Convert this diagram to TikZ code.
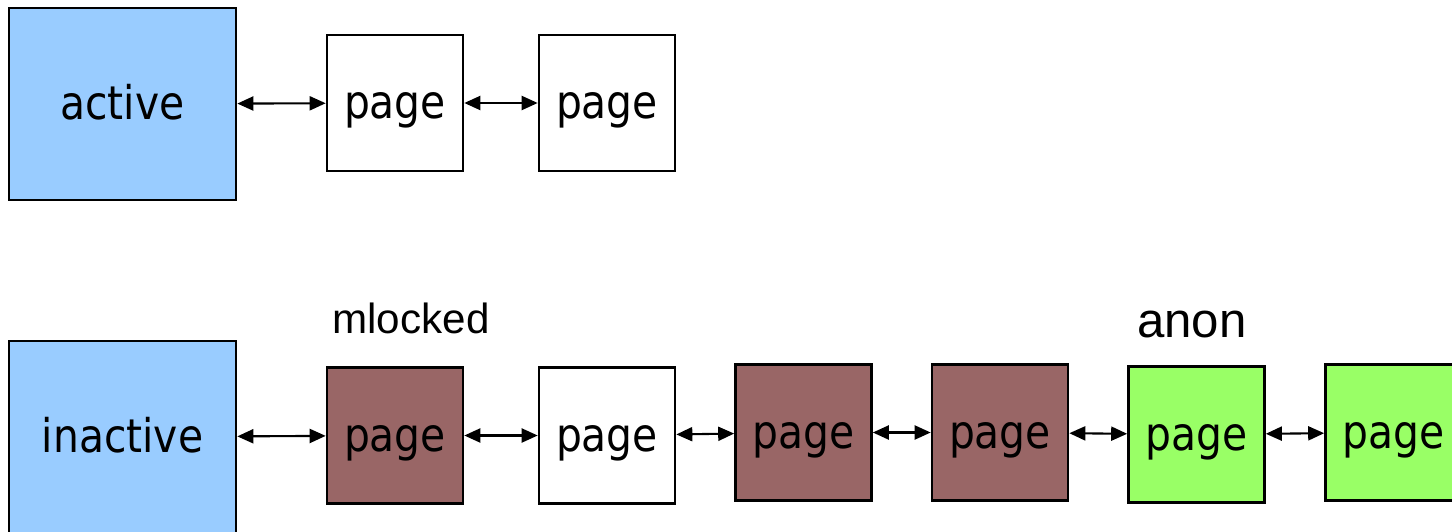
\documentclass[tikz,border=0pt]{standalone}
\usepackage{fontspec}
\usepackage{tikz}
\usetikzlibrary{arrows.meta}
\newfontfamily\boxfont[FakeStretch=0.88]{DejaVu Sans}
\newfontfamily\tagfont{Liberation Sans}
\definecolor{headblue}{HTML}{99CCFF}
\definecolor{lockbrown}{HTML}{996666}
\definecolor{anongreen}{HTML}{99FF66}
\begin{document}
\begin{tikzpicture}[>={Triangle[length=1.6mm,width=1.4mm]}, node distance=2.12cm]
      \tikzstyle{listhead} = [draw, line width=0.75pt, fill=headblue, minimum width=2.27cm, minimum height=1.92cm, inner sep=0pt, text height=0.31cm, text depth=0pt, font=\boxfont\fontsize{13.2}{15}\selectfont]
      \tikzstyle{pagebox} = [draw, line width=0.75pt, minimum size=1.36cm, inner sep=0pt, text height=0.31cm, text depth=0pt, font=\boxfont\fontsize{13.2}{15}\selectfont]
      \tikzstyle{tag} = [inner sep=0pt, font=\tagfont]
      \useasboundingbox (0,0) rectangle (14.52,-5.31);
      \begin{scope}
	\path[<->, line width=0.6pt]
	node[listhead] (act) at (1.225,-1.04) {active}
	node[pagebox, right of=act, xshift=0.605cm, yshift=0.01cm] (a1) {page}
	node[pagebox, right of=a1] (a2) {page}
	(act) edge (a1)
	(a1) edge (a2)
	;
      \end{scope}
      \begin{scope}[node distance=1.965cm]
	\path[<->, line width=0.6pt]
	node[listhead] (inact) at (1.225,-4.37) {inactive}
	node[pagebox, fill=lockbrown, right of=inact, xshift=0.76cm, yshift=0.015cm] (i1) {page}
	node[pagebox, right of=i1, xshift=0.155cm] (i2) {page}
	node[pagebox, fill=lockbrown, right of=i2, yshift=0.03cm] (i3) {page}
	node[pagebox, fill=lockbrown, right of=i3] (i4) {page}
	node[pagebox, fill=anongreen, right of=i4, yshift=-0.02cm] (i5) {page}
	node[pagebox, fill=anongreen, right of=i5, xshift=0.005cm, yshift=0.02cm] (i6) {page}
	(inact) edge (i1)
	(i1) edge (i2)
	(i2) edge (i3)
	(i3) edge (i4)
	(i4) edge (i5)
	(i5) edge (i6)
	node[tag, above of=i1, yshift=-0.79cm, xshift=0.16cm, font=\tagfont\fontsize{12}{14}\selectfont] (ml) {mlocked}
	node[tag, above of=i5, yshift=-0.86cm, xshift=-0.045cm, font=\tagfont\fontsize{14}{16}\selectfont] (an) {anon}
	;
      \end{scope}
\end{tikzpicture}
\end{document}
